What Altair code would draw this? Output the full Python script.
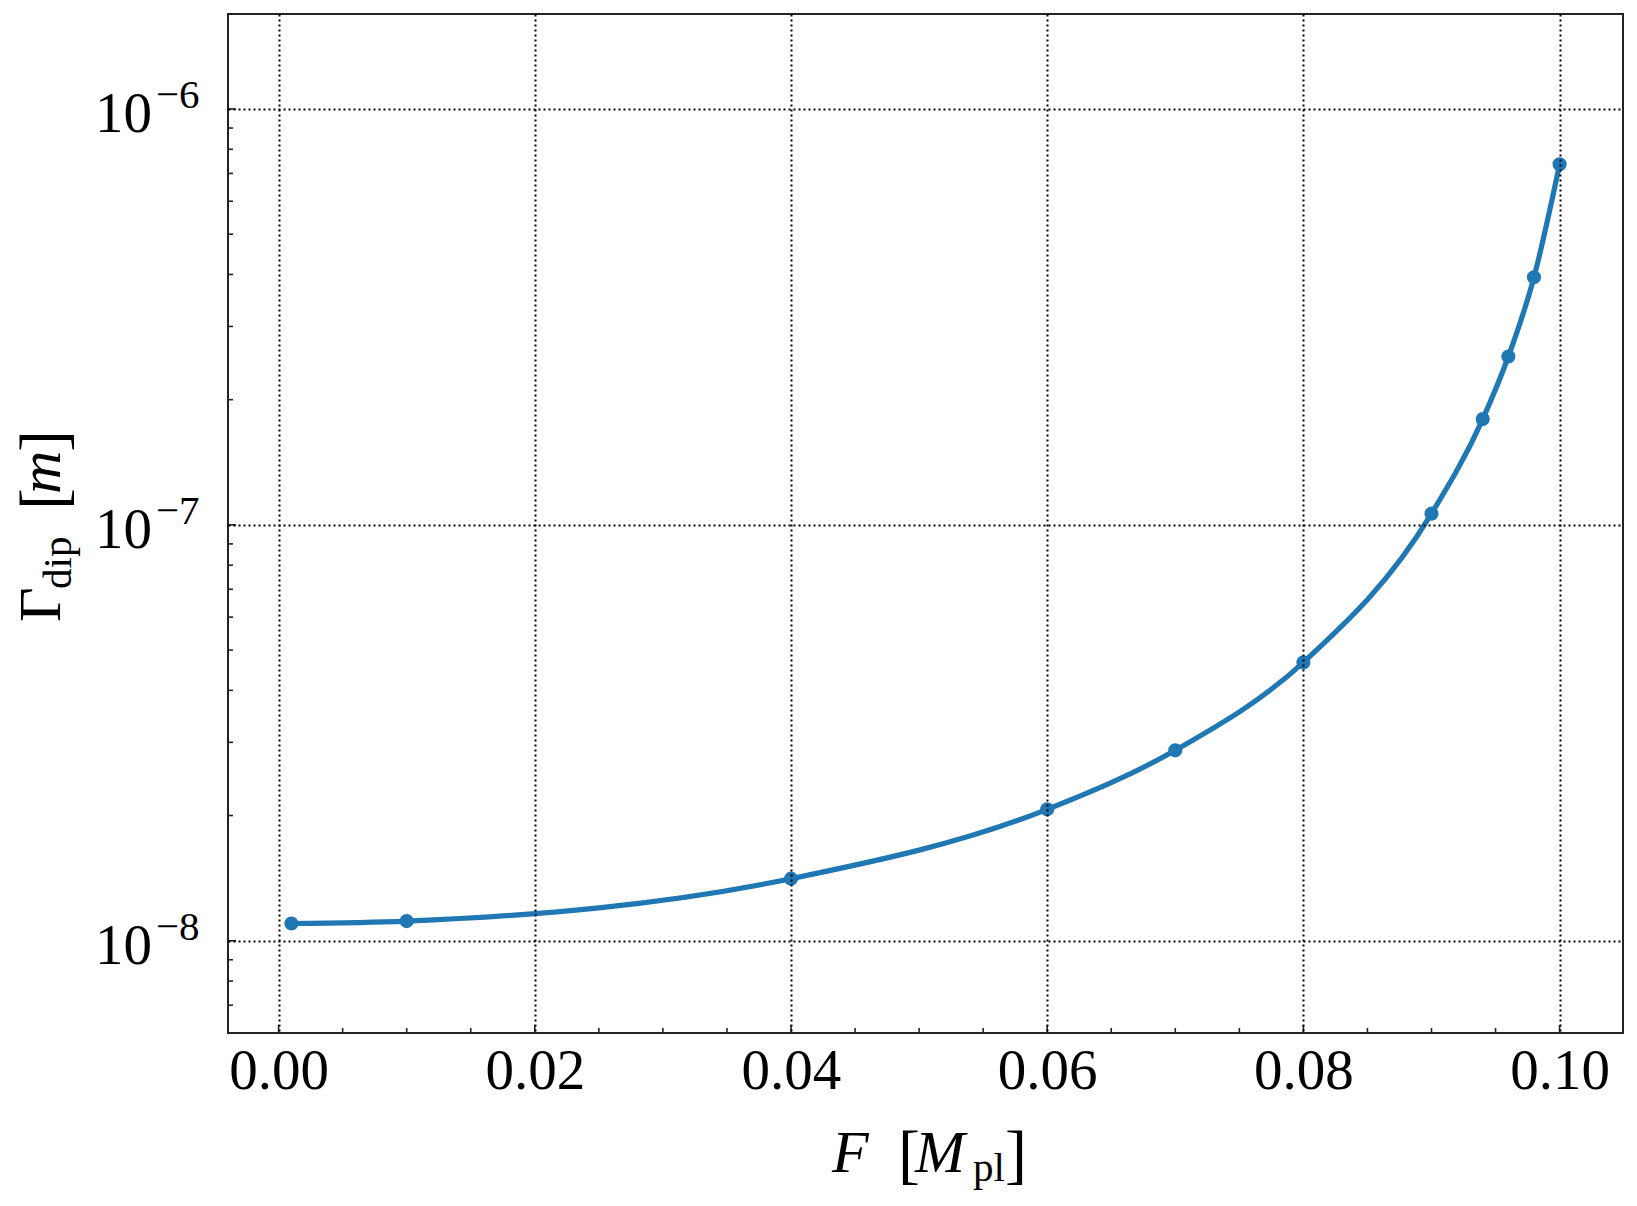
import altair as alt
import pandas as pd

# ---- data ----
F_vals = [0.001, 0.01, 0.04, 0.06, 0.07, 0.08, 0.09, 0.094, 0.096, 0.098, 0.1]
G_vals = [1.10e-8, 1.115e-8, 1.41e-8, 2.07e-8, 2.87e-8, 4.67e-8, 1.064e-7, 1.796e-7, 2.54e-7, 3.94e-7, 7.36e-7]

x_major = [0.0, 0.02, 0.04, 0.06, 0.08, 0.10]
x_minor = [0.005, 0.01, 0.015, 0.025, 0.03, 0.035, 0.045, 0.05, 0.055,
           0.065, 0.07, 0.075, 0.085, 0.09, 0.095]
y_major = [1e-8, 1e-7, 1e-6]
y_exponents = ["\u22128", "\u22127", "\u22126"]
y_minor = [6e-9, 7e-9, 8e-9, 9e-9,
           2e-8, 3e-8, 4e-8, 5e-8, 6e-8, 7e-8, 8e-8, 9e-8,
           2e-7, 3e-7, 4e-7, 5e-7, 6e-7, 7e-7, 8e-7, 9e-7]

X_DOMAIN = [-0.00395, 0.10495]
Y_DOMAIN = [6.0e-9, 1.692e-6]

W, H = 1395, 1019
BLUE = "#1f77b4"
SERIF = "Liberation Serif"

xs = alt.Scale(domain=X_DOMAIN, nice=False, zero=False)
ys = alt.Scale(type="log", domain=Y_DOMAIN, nice=False)

grid_kw = dict(grid=True, gridColor="black", gridDash=[2, 3], gridWidth=2,
               gridOpacity=1, ticks=False, tickSize=0, domain=False, title=None, zindex=1)
x_axis = alt.Axis(values=x_major, format=".2f", labelFont=SERIF, labelFontSize=57,
                  labelColor="black", labelPadding=10, labelOverlap=False,
                  labelFlush=False, **grid_kw)
y_axis = alt.Axis(values=y_major, labels=False, **grid_kw)


def XE(f):
    return alt.X(f"{f}:Q", scale=xs, axis=x_axis)


def YE(f):
    return alt.Y(f"{f}:Q", scale=ys, axis=y_axis)


df = pd.DataFrame({"F": F_vals, "G": G_vals})

line = alt.Chart(df).mark_line(color=BLUE, strokeWidth=5.2, interpolate="monotone").encode(
    x=XE("F"), y=YE("G"))
pts = alt.Chart(df).mark_circle(color=BLUE, size=200, opacity=1).encode(x=XE("F"), y=YE("G"))

xmin_df = pd.DataFrame({"F": x_minor})
xmaj_df = pd.DataFrame({"F": x_major})
ymin_df = pd.DataFrame({"G": y_minor})
ymaj_df = pd.DataFrame({"G": y_major, "e": y_exponents})

tick_style = dict(color="#222222", strokeWidth=1.6)
xminor = alt.Chart(xmin_df).mark_rule(**tick_style).encode(
    x=XE("F"), y=alt.value(H), y2=alt.value(H - 5))
xmajor = alt.Chart(xmaj_df).mark_rule(**tick_style).encode(
    x=XE("F"), y=alt.value(H), y2=alt.value(H - 8))
yminor = alt.Chart(ymin_df).mark_rule(**tick_style).encode(
    y=YE("G"), x=alt.value(0), x2=alt.value(5))
ymajor = alt.Chart(ymaj_df).mark_rule(**tick_style).encode(
    y=YE("G"), x=alt.value(0), x2=alt.value(8))

ylab_base = alt.Chart(ymaj_df).mark_text(
    text="10", font=SERIF, fontSize=57, align="right", baseline="alphabetic",
    dy=23, color="black").encode(y=YE("G"), x=alt.value(-76))
ylab_exp = alt.Chart(ymaj_df).mark_text(
    font=SERIF, fontSize=41, align="left", baseline="alphabetic",
    dy=-1, color="black").encode(y=YE("G"), x=alt.value(-72), text="e:N")


def piece(txt, x, y, size=60, italic=False, angle=0):
    kw = dict(text=txt, font=SERIF, fontSize=size, align="left",
              baseline="alphabetic", color="black")
    if italic:
        kw["fontStyle"] = "italic"
    if angle:
        kw["angle"] = angle
    return alt.Chart(pd.DataFrame({"k": [0]})).mark_text(**kw).encode(
        x=alt.value(x), y=alt.value(y))


title_pieces = [
    # x title: F [M_pl]
    piece("F", 604, 1158, italic=True),
    piece("[", 670, 1162, size=66),
    piece("M", 687, 1158, italic=True),
    piece("pl", 745, 1167, size=41),
    piece("]", 777, 1162, size=66),
    # y title: Gamma_dip [m]
    piece("\u0393", -168, 608, angle=270),
    piece("dip", -157.5, 575, size=41, angle=270),
    piece("[", -163, 496, size=66, angle=270),
    piece("m", -168, 480, italic=True, angle=270),
    piece("]", -163, 438, size=66, angle=270),
]

chart = alt.layer(line, pts, xminor, xmajor, yminor, ymajor, ylab_base, ylab_exp,
                  *title_pieces).properties(
    width=W, height=H,
    background="white",
    autosize=alt.AutoSizeParams(type="none"),
    padding={"left": 220, "top": 6, "right": 6, "bottom": 165},
).configure_view(stroke="#222222", strokeWidth=2)

chart.save("out.html", embed_options={"renderer": "svg", "actions": False})
